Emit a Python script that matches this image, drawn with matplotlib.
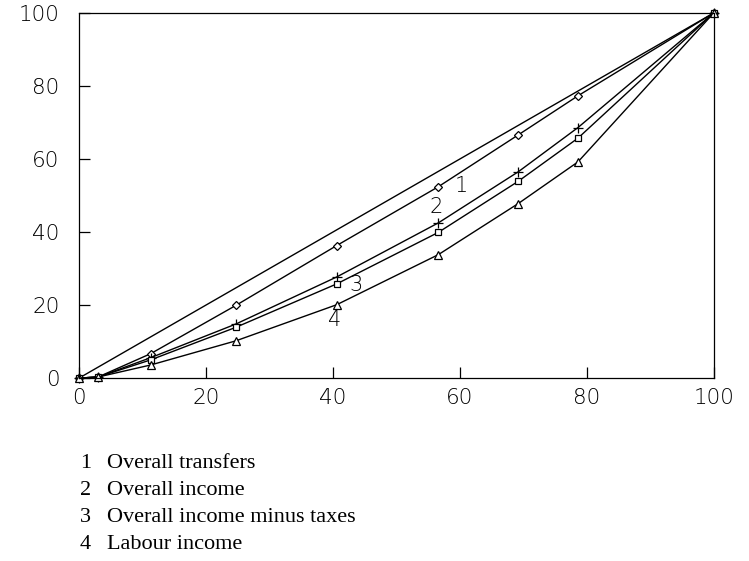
import matplotlib
matplotlib.use("Agg")
import matplotlib.pyplot as plt

# population share (x) and cumulative share (y), Lorenz curves
pop = [0, 3.0, 11.3, 24.7, 40.6, 56.6, 69.2, 78.6, 100]
transfers = [0, 0.3, 6.7, 19.9, 36.3, 52.4, 66.6, 77.3, 100]
income = [0, 0.3, 5.6, 14.8, 27.7, 42.5, 56.5, 68.6, 100]
income_net = [0, 0.3, 5.0, 13.9, 25.8, 39.9, 53.9, 65.7, 100]
labour = [0, 0.3, 3.6, 10.2, 20.1, 33.8, 47.8, 59.2, 100]
equality_x = [0, 100]
equality_y = [0, 100]

ticks = [0, 20, 40, 60, 80, 100]
legend_items = ["Overall transfers", "Overall income",
                "Overall income minus taxes", "Labour income"]

fig = plt.figure(figsize=(7.49, 5.61), dpi=100)
ax = fig.add_axes([0.1055, 0.326, 0.8475, 0.651])

kw = dict(color="black", lw=1.0, mfc="white", mec="black", mew=0.9, clip_on=False)
ax.plot(equality_x, equality_y, color="black", lw=1.0)
ax.plot(pop, transfers, marker="D", ms=4, **kw)
ax.plot(pop, income, marker="+", ms=7, **kw)
ax.plot(pop, income_net, marker="s", ms=5, **kw)
ax.plot(pop, labour, marker="^", ms=5.5, **kw)

# curve numbers
lab_font = dict(fontsize=15, family="DejaVu Sans", fontweight="light", ha="center", va="center")
ax.text(60.2, 52.6, "1", **lab_font)
ax.text(56.3, 46.8, "2", **lab_font)
ax.text(43.6, 25.6, "3", **lab_font)
ax.text(40.3, 15.8, "4", **lab_font)

ax.set_xlim(0, 100)
ax.set_ylim(0, 100)
ax.set_xticks(ticks)
ax.set_yticks(ticks)
ax.tick_params(direction="in", length=8, width=0.9, top=False, right=False,
               labelsize=15.5, pad=14)
ax.tick_params(axis="x", pad=7)
for lbl in ax.get_xticklabels() + ax.get_yticklabels():
    lbl.set_fontweight("light")
for s in ax.spines.values():
    s.set_linewidth(0.9)

# key below the plot
for i, name in enumerate(legend_items):
    y = 1 - (463 + 27.3 * i) / 561
    fig.text(80 / 749, y, str(i + 1), fontsize=16, family="Liberation Serif", va="center")
    fig.text(107 / 749, y, name, fontsize=16, family="Liberation Serif", va="center")

fig.savefig("out.png", dpi=100)
